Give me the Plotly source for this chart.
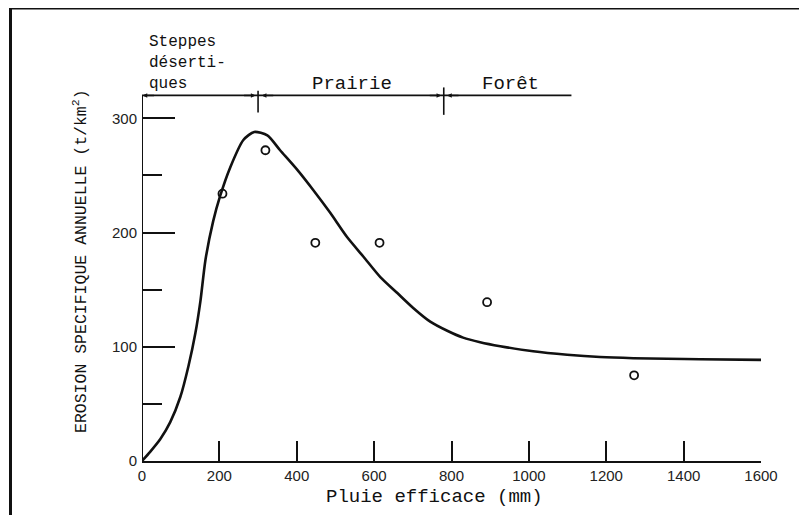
import plotly.graph_objects as go

# Curve
curve_x = [0, 21, 47, 73, 99, 120, 138, 151, 164, 184, 202, 228, 262, 290, 324, 357, 401, 443,
           487, 530, 572, 616, 660, 701, 745, 789, 830, 874, 926, 1011, 1099, 1184, 1270, 1357,
           1442, 1600]
curve_y = [0, 8, 19, 34, 56, 83, 112, 140, 176, 210, 232, 257, 281, 288, 285, 272, 255, 237,
           217, 196, 179, 161, 147, 134, 122, 114, 108, 104, 100.5, 96, 93, 91, 90, 89.5,
           89, 88.5]

# Observed points
pts_x = [208, 319, 448, 614, 892, 1272]
pts_y = [234, 272, 191, 191, 139, 75]

x_ticks = [0, 200, 400, 600, 800, 1000, 1200, 1400, 1600]
y_ticks = [0, 100, 200, 300]

regions = ["Steppes<br>déserti-<br>ques", "Prairie", "Forêt"]
bounds = [0, 300, 780, 1110]

BLACK = "#111111"
MONO = "Liberation Mono, Courier New, monospace"

fig = go.Figure()
fig.add_trace(go.Scatter(x=curve_x, y=curve_y, mode="lines",
                         line=dict(color=BLACK, width=2.6, shape="spline", smoothing=0.7),
                         hoverinfo="skip", showlegend=False))
fig.add_trace(go.Scatter(x=pts_x, y=pts_y, mode="markers",
                         marker=dict(symbol="circle-open", size=8, color=BLACK, line=dict(width=1.8, color=BLACK)),
                         showlegend=False))

# screen-pixel -> paper helpers (page has 8px body offset; plot area 142..761 x 84..461 on screen)
pw, ph = 619.0, 377.0
def px(p):
    return (p - 142) / pw
def py(p):
    return (461 - p) / ph

shapes = []
shapes.append(dict(type="line", xref="x", yref="y", x0=0, x1=0, y0=0, y1=320, line=dict(color=BLACK, width=2)))
shapes.append(dict(type="line", xref="x", yref="y", x0=bounds[0], x1=bounds[-1], y0=320, y1=320, line=dict(color=BLACK, width=1.6)))
shapes.append(dict(type="line", xref="x", yref="y", x0=bounds[1], x1=bounds[1], y0=324, y1=305, line=dict(color=BLACK, width=1.6)))
shapes.append(dict(type="line", xref="x", yref="y", x0=bounds[2], x1=bounds[2], y0=327, y1=303, line=dict(color=BLACK, width=1.6)))
# outer frame
shapes.append(dict(type="line", xref="paper", yref="paper", x0=px(9), x1=px(830), y0=py(8), y1=py(8), line=dict(color=BLACK, width=3)))
shapes.append(dict(type="line", xref="paper", yref="paper", x0=px(10.5), x1=px(10.5), y0=py(8), y1=py(540), line=dict(color=BLACK, width=3)))

annotations = []
for tip, tail in [(2, 35), (293, 260), (310, 343), (773, 740), (789, 822)]:
    annotations.append(dict(x=tip, y=320, ax=tail, ay=320, xref="x", yref="y", axref="x", ayref="y",
                            text="", showarrow=True, arrowhead=2, arrowsize=0.6, arrowwidth=1.5, arrowcolor=BLACK))
annotations.append(dict(x=px(147), y=py(63), xref="paper", yref="paper", text=regions[0], showarrow=False,
                        xanchor="left", yanchor="middle", align="left",
                        font=dict(family=MONO, size=16, color=BLACK)))
for txt, xx in zip(regions[1:], [352, 510]):
    annotations.append(dict(x=px(xx), y=py(84), xref="paper", yref="paper", text=txt, showarrow=False,
                            xanchor="center", yanchor="middle", font=dict(family=MONO, size=19, color=BLACK)))
annotations.append(dict(x=px(80), y=py(261), xref="paper", yref="paper",
                        text="EROSION SPECIFIQUE ANNUELLE (t/km<sup>2</sup>)",
                        textangle=-90, showarrow=False, xanchor="center", yanchor="middle",
                        font=dict(family=MONO, size=16.5, color=BLACK)))
annotations.append(dict(x=px(434), y=py(497), xref="paper", yref="paper", text="Pluie efficace (mm)",
                        showarrow=False, xanchor="center", yanchor="middle",
                        font=dict(family=MONO, size=19, color=BLACK)))

fig.update_layout(
    width=807, height=515,
    margin=dict(l=134, r=54, t=76, b=62),
    paper_bgcolor="white", plot_bgcolor="white",
    shapes=shapes, annotations=annotations,
    xaxis=dict(range=[0, 1600], tickvals=x_ticks, ticktext=[str(v) for v in x_ticks],
               ticks="inside", ticklen=20, tickwidth=1.6, tickcolor=BLACK, automargin=False,
               showline=True, linecolor=BLACK, linewidth=2, showgrid=False, zeroline=False,
               tickfont=dict(family="Liberation Sans, Arial", size=15, color="#222"), ticklabelstandoff=0),
    yaxis=dict(range=[0, 330], tickvals=y_ticks, ticktext=[str(v) for v in y_ticks],
               ticks="inside", ticklen=33, tickwidth=1.6, tickcolor=BLACK, automargin=False,
               minor=dict(tickvals=[50, 150, 250], ticks="inside", ticklen=20, tickwidth=1.6, tickcolor=BLACK),
               showline=False, showgrid=False, zeroline=False,
               tickfont=dict(family="Liberation Sans, Arial", size=15, color="#222"), ticklabelstandoff=4),
)

fig.write_html("out.html")
